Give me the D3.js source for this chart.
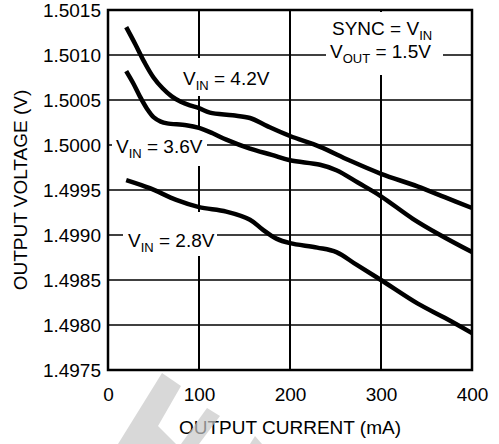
<!DOCTYPE html>
<html><head><meta charset="utf-8">
<script src="https://cdn.jsdelivr.net/npm/d3@7"></script>
<style>body{margin:0;background:#fff}svg{display:block}text{font-family:"Liberation Sans",Arial,sans-serif;fill:#000}</style>
</head><body><svg id="c" width="499" height="444"></svg>
<script>
const xTicks = [0, 100, 200, 300, 400];
const yTicks = [1.4975, 1.4980, 1.4985, 1.4990, 1.4995, 1.5000, 1.5005, 1.5010, 1.5015];
const xLabel = "OUTPUT CURRENT (mA)";
const yLabel = "OUTPUT VOLTAGE (V)";
const seriesNames = ["4.2V", "3.6V", "2.8V"];
const current42 = [20,30,40,50,60,70,80,90,100,112,137,156,175,200,233,265,300,340,370,400];
const vout42 = [1.50131,1.50112,1.50092,1.50075,1.50063,1.50054,1.50048,1.50044,1.50041,1.50036,1.50033,1.50030,1.50021,1.50010,1.49998,1.49983,1.49968,1.49954,1.49942,1.49930];
const current36 = [20,28,35,43,50,58,65,86,100,115,130,156,180,200,233,251,275,300,335,365,400];
const vout36 = [1.50082,1.50068,1.50054,1.50040,1.50031,1.50026,1.50024,1.50022,1.50019,1.50013,1.50006,1.49996,1.49989,1.49983,1.49978,1.49972,1.49958,1.49943,1.49918,1.49900,1.49881];
const current28 = [20,46,75,100,130,156,170,185,200,230,251,273,300,340,370,400];
const vout28 = [1.49961,1.49952,1.49939,1.49931,1.49926,1.49917,1.49906,1.49896,1.49891,1.49886,1.49881,1.49867,1.49850,1.49824,1.49808,1.49791];

const svg = d3.select("#c");
const L = 108, R = 472, T = 10, B = 370;
const x = d3.scaleLinear().domain([0, 400]).range([L, R]);
const y = d3.scaleLinear().domain([1.4975, 1.5015]).range([B, T]);
const FS = 19;

// gridlines
const g = svg.append("g");
g.selectAll(".hg").data(yTicks.slice(1, -1)).enter().append("line")
  .attr("x1", L).attr("x2", R).attr("y1", d => y(d)).attr("y2", d => y(d))
  .attr("stroke", "#000").attr("stroke-width", 1.5);
g.selectAll(".vg").data(xTicks.slice(1, -1)).enter().append("line")
  .attr("y1", T).attr("y2", B).attr("x1", d => x(d)).attr("x2", d => x(d))
  .attr("stroke", "#000").attr("stroke-width", 2);

// label backgrounds
const boxes = [[178, 58, 94, 38], [112, 130, 95, 36], [123, 212, 94, 44], [326, 12, 117, 63]];
svg.selectAll(".bx").data(boxes).enter().append("rect")
  .attr("x", d => d[0]).attr("y", d => d[1]).attr("width", d => d[2]).attr("height", d => d[3])
  .attr("fill", "#fff");

// curves
const series = [
  current42.map((c, i) => [c, vout42[i]]),
  current36.map((c, i) => [c, vout36[i]]),
  current28.map((c, i) => [c, vout28[i]])
];
const line = d3.line().x(d => x(d[0])).y(d => y(d[1])).curve(d3.curveCatmullRom.alpha(0.5));
svg.selectAll(".crv").data(series).enter().append("path")
  .attr("d", line).attr("fill", "none").attr("stroke", "#000").attr("stroke-width", 4.5)
  .attr("stroke-linejoin", "round");

// frame
svg.append("rect").attr("x", L).attr("y", T).attr("width", R - L).attr("height", B - T)
  .attr("fill", "none").attr("stroke", "#000").attr("stroke-width", 2.5);

// axes tick labels via d3 axes
const xAxis = d3.axisBottom(x).tickValues(xTicks).tickSize(0).tickPadding(0).tickFormat(d3.format("d"));
const gx = svg.append("g").attr("transform", `translate(0,${B})`).call(xAxis);
gx.select(".domain").remove();
gx.selectAll("text").attr("font-size", FS).attr("dy", null).attr("y", 31)
  .attr("font-family", '"Liberation Sans",Arial,sans-serif').attr("fill", "#000");
const yAxis = d3.axisLeft(y).tickValues(yTicks).tickSize(0).tickPadding(0).tickFormat(d3.format(".4f"));
const gy = svg.append("g").attr("transform", `translate(${L - 7},0)`).call(yAxis);
gy.select(".domain").remove();
gy.selectAll("text").attr("font-size", FS).attr("dy", "0.36em").attr("x", 0)
  .attr("font-family", '"Liberation Sans",Arial,sans-serif').attr("fill", "#000");

// axis titles
svg.append("text").attr("x", (L + R) / 2).attr("y", 434).attr("text-anchor", "middle")
  .attr("font-size", FS).text(xLabel);
svg.append("text").attr("transform", `translate(27,${(T + B) / 2}) rotate(-90)`).attr("text-anchor", "middle")
  .attr("font-size", FS).text(yLabel);

// curve labels
function label(px, py, parts) {
  const t = svg.append("text").attr("x", px).attr("y", py).attr("font-size", FS);
  parts.forEach(p => {
    if (p[1]) t.append("tspan").attr("font-size", 13).attr("dy", 4.5).text(p[0]);
    else t.append("tspan").attr("dy", p[2] || 0).text(p[0]);
  });
}
label(183, 85, [["V"], ["IN", true], [" = " + seriesNames[0], false, -4.5]]);
label(116, 153, [["V"], ["IN", true], [" = " + seriesNames[1], false, -4.5]]);
label(128, 247, [["V"], ["IN", true], [" = " + seriesNames[2], false, -4.5]]);
label(332, 35, [["SYNC = V"], ["IN", true]]);
label(330, 58, [["V"], ["OUT", true], [" = 1.5V", false, -4.5]]);

// watermark overlay
const wm = [
  [[162,373],[181,386],[158,426],[176,444],[118,444]],
  [[207,408],[220,416],[199,444],[181,444]],
  [[255,436],[262,444],[250,444]]
];
svg.selectAll(".wm").data(wm).enter().append("path")
  .attr("d", d => d3.line()(d) + "Z").attr("fill", "rgb(200,200,200)").attr("fill-opacity", 0.7);
</script></body></html>
